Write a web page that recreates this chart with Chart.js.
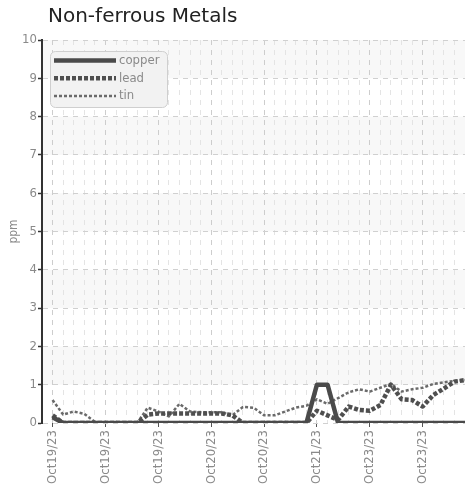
<!DOCTYPE html>
<html>
<head>
<meta charset="utf-8">
<title>Non-ferrous Metals</title>
<script src="https://cdn.jsdelivr.net/npm/chart.js@4"></script>
<style>
  html, body { margin: 0; padding: 0; background: #fff; overflow: hidden; }
  #wrap { width: 465px; height: 484px; }
  canvas { display: block; }
</style>
</head>
<body>
<div id="wrap"><canvas id="canvas"></canvas></div>
<script>
// tick labels, one for every 5 readings:
const tickLabels = ['Oct19/23', 'Oct19/23', 'Oct19/23', 'Oct20/23', 'Oct20/23', 'Oct21/23', 'Oct23/23', 'Oct23/23'];
const labelEvery = 5;

// readings in ppm:
const copper = [0.15, 0, 0, 0, 0, 0, 0, 0, 0, 0,
                0, 0, 0, 0, 0, 0, 0, 0, 0, 0,
                0, 0, 0, 0, 0, 1.0, 1.0, 0, 0, 0,
                0, 0, 0, 0, 0, 0, 0, 0, 0, 0];
const lead = [0.2, 0, 0, 0, 0, 0, 0, 0, 0, 0.22,
              0.25, 0.25, 0.25, 0.25, 0.25, 0.25, 0.25, 0.2, 0, 0,
              0, 0, 0, 0, 0, 0.32, 0.2, 0.08, 0.43, 0.34,
              0.32, 0.47, 1.0, 0.62, 0.6, 0.43, 0.73, 0.9, 1.08, 1.12];
const tin = [0.6, 0.22, 0.3, 0.24, 0.03, 0, 0, 0, 0, 0.4,
             0.3, 0.17, 0.5, 0.3, 0.28, 0.28, 0.28, 0.2, 0.42, 0.4,
             0.2, 0.2, 0.3, 0.4, 0.45, 0.62, 0.5, 0.65, 0.8, 0.88,
             0.82, 0.92, 1.02, 0.82, 0.88, 0.92, 1.02, 1.06, 1.1, 1.12];

const narrow = '"Liberation Sans Narrow", "DejaVu Sans Condensed", "Arial Narrow", sans-serif';
const labelGray = '#8a8a8a';

// turn an array of readings into x/y points:
function points(values) {
  return values.map((v, i) => ({ x: i, y: v }));
}

// light bands behind every other unit:
const bands = {
  id: 'bands',
  beforeDraw(chart) {
    const { ctx, chartArea, scales } = chart;
    ctx.save();
    ctx.fillStyle = '#f8f8f8';
    for (let v = 1; v < 10; v += 2) {
      const top = scales.y.getPixelForValue(v + 1);
      const bottom = scales.y.getPixelForValue(v);
      ctx.fillRect(chartArea.left, top, chartArea.right - chartArea.left, bottom - top);
    }
    ctx.restore();
  }
};

// boxed legend inside the top left of the plot:
const boxLegend = {
  id: 'boxLegend',
  afterDatasetsDraw(chart) {
    const { ctx, chartArea } = chart;
    const x = chartArea.left + 8;
    const y = chartArea.top + 11;
    const w = 117, h = 56;
    ctx.save();
    ctx.beginPath();
    ctx.roundRect(x + 0.5, y + 0.5, w, h, 5);
    ctx.fillStyle = '#f2f2f2';
    ctx.fill();
    ctx.strokeStyle = '#cfcfcf';
    ctx.lineWidth = 1;
    ctx.stroke();
    ctx.font = '13px ' + narrow;
    ctx.textBaseline = 'middle';
    chart.data.datasets.forEach((ds, i) => {
      const ly = y + 9.5 + i * 17.7;
      ctx.beginPath();
      ctx.setLineDash(ds.borderDash || []);
      ctx.lineWidth = ds.borderWidth;
      ctx.strokeStyle = ds.borderColor;
      ctx.moveTo(x + 4, ly);
      ctx.lineTo(x + 66, ly);
      ctx.stroke();
      ctx.setLineDash([]);
      ctx.fillStyle = labelGray;
      ctx.fillText(ds.label, x + 69, ly);
    });
    ctx.restore();
  }
};

// move the title in line with the plot:
const titleNudge = {
  id: 'titleNudge',
  afterLayout(chart) {
    chart.titleBlock.left += 6;
    chart.titleBlock.right += 6;
  }
};

const config = {
  type: 'line',
  data: {
    datasets: [
      { label: 'copper', data: points(copper), borderColor: '#4a4a4a', borderWidth: 4.5, borderDash: [] },
      { label: 'lead', data: points(lead), borderColor: '#4f4f4f', borderWidth: 4.5, borderDash: [4, 2] },
      { label: 'tin', data: points(tin), borderColor: '#6a6a6a', borderWidth: 2.5, borderDash: [3, 2] }
    ]
  },
  options: {
    responsive: true,
    maintainAspectRatio: false,
    animation: false,
    layout: { padding: 0 },
    elements: {
      point: { radius: 0 },
      line: { tension: 0, fill: false, borderJoinStyle: 'round' }
    },
    plugins: {
      legend: { display: false },
      tooltip: { enabled: false },
      title: {
        display: true,
        text: 'Non-ferrous Metals',
        align: 'start',
        fullSize: false,
        color: '#222',
        font: { family: '"DejaVu Sans", sans-serif', size: 20, weight: 'normal' },
        padding: { top: 5, bottom: 11 }
      }
    },
    scales: {
      x: {
        type: 'linear',
        min: -1,
        max: 39,
        // the plot runs right up to the edge of the canvas:
        afterFit(scale) {
          scale.height = 61;
          scale.paddingLeft = 0;
          scale.paddingRight = 0;
        },
        ticks: {
          stepSize: 1,
          autoSkip: false,
          minRotation: 90,
          maxRotation: 90,
          padding: 3,
          color: labelGray,
          font: { family: narrow, size: 13 },
          callback: v => (v >= 0 && v % labelEvery === 0) ? tickLabels[v / labelEvery] : ''
        },
        grid: {
          lineWidth: 1,
          tickLength: 4,
          color: c => c.tick.value < 0 ? 'transparent' : (c.tick.value % labelEvery === 0 ? '#cdcdcd' : '#e4e4e4'),
          tickColor: c => (c.tick.value >= 0 && c.tick.value % labelEvery === 0) ? '#555' : 'transparent'
        },
        border: { display: false, dash: [5, 5] }
      },
      y: {
        min: 0,
        max: 10,
        afterFit(scale) { scale.width = 42; },
        ticks: {
          stepSize: 1,
          padding: 1,
          color: labelGray,
          font: { family: narrow, size: 13 }
        },
        grid: {
          color: '#d0d0d0',
          lineWidth: 1,
          tickLength: 4,
          tickColor: '#333',
          tickWidth: 1.5
        },
        border: { display: true, color: '#333', width: 2, dash: [5, 5] },
        title: {
          display: true,
          text: 'ppm',
          color: labelGray,
          font: { family: narrow, size: 12 },
          padding: { top: 7, bottom: 0 }
        }
      }
    }
  },
  plugins: [bands, boxLegend, titleNudge]
};

const chart = new Chart(document.getElementById('canvas'), config);
</script>
</body>
</html>
